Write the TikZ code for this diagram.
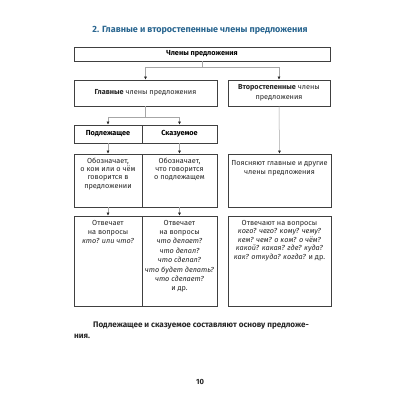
\documentclass[tikz,border=0pt]{standalone}
\usepackage{fontspec}
\setmainfont{Fira Sans}
\usetikzlibrary{arrows.meta}
\definecolor{titleblue}{HTML}{2A6690}
\tikzset{
  cell/.style={draw=black!75, line width=0.6pt, inner sep=0pt},
  txt/.style={align=center, inner sep=0pt, text=black!85, font=\fontsize{7.3}{8.3}\selectfont},
  qtxt/.style={txt, font=\fontsize{7.3}{9.4}\selectfont},
  link/.style={draw=black!35, line width=0.5pt},
  arr/.style={link, -{Latex[length=3pt,width=2.8pt,color=black!85]}}
}
\begin{document}
\begin{tikzpicture}[x=1pt, y=-1pt]
  \useasboundingbox[fill=white] (0,0) rectangle (400,400);
  % title
  \node[font=\bfseries\fontsize{9}{10}\selectfont, text=titleblue] (title) at (200,30) {2. Главные и второстепенные члены предложения};
  % boxes
  \node[cell, minimum width=256pt, minimum height=14pt, font=\bfseries\fontsize{7.3}{8.3}\selectfont] (members) at (202,54) {Члены предложения};
  \node[cell, minimum width=143pt, minimum height=26pt, txt] (main) at (145.5,93) {\textbf{Главные} члены предложения};
  \node[cell, minimum width=102pt, minimum height=26pt, txt, font=\fontsize{7.3}{9.6}\selectfont] (minor) at (279,93) {\textbf{Второстепенные} члены\\предложения};
  \node[cell, minimum width=68pt, minimum height=18pt, font=\bfseries\fontsize{7.3}{8.3}\selectfont] (subj) at (108,134) {Подлежащее};
  \node[cell, minimum width=75pt, minimum height=18pt, font=\bfseries\fontsize{7.3}{8.3}\selectfont] (pred) at (179.5,134) {Сказуемое};
  \node[cell, minimum width=68pt, minimum height=53pt] (subjdesc) at (108,180.5) {};
  \node[cell, minimum width=75pt, minimum height=53pt] (preddesc) at (179.5,180.5) {};
  \node[cell, minimum width=103pt, minimum height=53pt] (minordesc) at (279.5,180.5) {};
  \node[cell, minimum width=68pt, minimum height=90pt] (subjq) at (108,261) {};
  \node[cell, minimum width=75pt, minimum height=90pt] (predq) at (179.5,261) {};
  \node[cell, minimum width=103pt, minimum height=90pt] (minorq) at (279.5,261) {};
  % box texts
  \node[txt, anchor=north] (subjdesctext) at ([yshift=-4pt]subjdesc.north) {Обозначает,\\о ком или о чём\\говорится в\\предложении};
  \node[txt, anchor=north] (preddesctext) at ([yshift=-4pt]preddesc.north) {Обозначает,\\что говорится\\о подлежащем};
  \node[txt, anchor=north] (minordesctext) at ([yshift=-7pt]minordesc.north) {Поясняют главные и другие\\члены предложения};
  \node[qtxt, anchor=north] (subjqtext) at ([yshift=-4pt]subjq.north) {Отвечает\\на вопросы\\\textit{кто? или что?}};
  \node[qtxt, anchor=north] (predqtext) at ([yshift=-4pt]predq.north) {Отвечает\\на вопросы\\\textit{что делает?}\\\textit{что делал?}\\\textit{что сделал?}\\\textit{что будет делать?}\\\textit{что сделает?}\\и др.};
  \node[txt, anchor=north, font=\fontsize{7.3}{8.5}\selectfont] (minorqtext) at ([yshift=-4pt]minorq.north) {Отвечают на вопросы\\\textit{кого? чего? кому? чему?}\\\textit{кем? чем? о ком? о чём?}\\\textit{какой? какая? где? куда?}\\\textit{как? откуда? когда?} и др.};
  % connectors
  \draw[link] (members.south) -- ++(0,6) coordinate (split1);
  \draw[arr] (split1) -| (main.north);
  \draw[arr] (split1) -| (minor.north);
  \draw[link] (main.south) -- ++(0,11) coordinate (split2);
  \draw[arr] (split2) -| (subj.north);
  \draw[arr] (split2) -| (pred.north);
  \draw[arr] (minor.south) -- (minordesc.north);
  \draw[arr] (subj.south) -- (subjdesc.north);
  \draw[arr] (pred.south) -- (preddesc.north);
  \draw[arr] (subjdesc.south) -- (subjq.north);
  \draw[arr] (preddesc.south) -- (predq.north);
  % closing sentence and page number
  \node[anchor=north west, align=left, inner sep=0pt, font=\bfseries\fontsize{8.1}{11}\selectfont, text=black!85] (rule) at (74,322) {\hspace*{19pt}Подлежащее и сказуемое составляют основу предложе-\\ния.};
  \node[font=\bfseries\fontsize{7.5}{9}\selectfont, text=black!85] (pagenum) at (200,382) {10};
\end{tikzpicture}
\end{document}
